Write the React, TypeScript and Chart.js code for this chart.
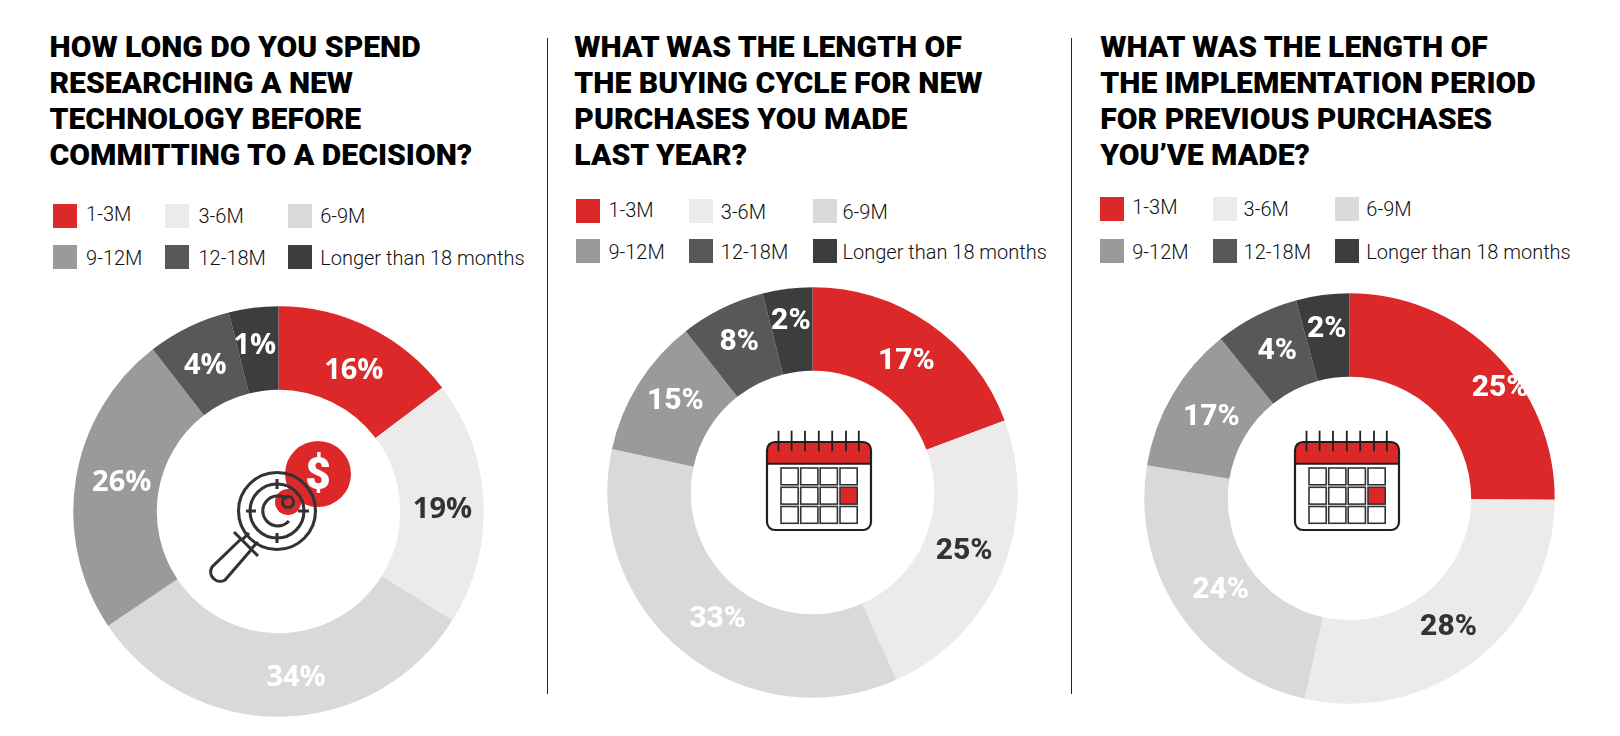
import React, { useEffect, useRef } from "react";
import { Chart, registerables } from "chart.js";

Chart.register(...registerables);

const categories = ["1-3M", "3-6M", "6-9M", "9-12M", "12-18M", "Longer than 18 months"];
const sliceColors = ["#DC2829", "#EBEBEB", "#D9D9D9", "#9B9A9A", "#585858", "#3D3D3D"];
const labelColors = ["#FFFFFF", "#333333", "#FFFFFF", "#FFFFFF", "#FFFFFF", "#FFFFFF"];

// Printed percentages
const researchLabels = [16, 19, 34, 26, 4, 1];
const buyingLabels = [17, 25, 33, 15, 8, 2];
const implementationLabels = [25, 28, 24, 17, 4, 2];

// Slice sizes as drawn in the picture (they differ a little from the printed figures)
const researchSlices = [14.7, 19.2, 31.7, 23.9, 6.6, 3.9];
const buyingSlices = [19.3, 24.0, 35.1, 11.0, 6.7, 3.9];
const implementationSlices = [25.1, 28.4, 24.1, 11.6, 6.6, 4.2];

const researchTitle = ["HOW LONG DO YOU SPEND", "RESEARCHING A NEW", "TECHNOLOGY BEFORE", "COMMITTING TO A DECISION?"];
const buyingTitle = ["WHAT WAS THE LENGTH OF", "THE BUYING CYCLE FOR NEW", "PURCHASES YOU MADE", "LAST YEAR?"];
const implementationTitle = ["WHAT WAS THE LENGTH OF", "THE IMPLEMENTATION PERIOD", "FOR PREVIOUS PURCHASES", "YOU\u2019VE MADE?"];

const K = 1620 / 1571;
const OUTER = 199 * K;
const INNER = 120.5 * K;
const CALENDAR_Y = 490.5;

type Panel = {
  title: string[];
  slices: number[];
  labels: number[];
  cx: number;
  cy: number;
  titleX: number;
  swatchX: number[];
  textX: number[];
  rowTop: number[];
  labelAt: number[][];
  labelFont: string;
  icon: "search" | "calendar";
  iconDx: number;
};

const panels: Panel[] = [
  {
    title: researchTitle, slices: researchSlices, labels: researchLabels,
    cx: 270, cy: 496, titleX: 48,
    swatchX: [51, 160, 279], textX: [83.5, 192.5, 310.5], rowTop: [197.5, 238],
    labelAt: [[73, -138.5], [159, -4], [17, 159], [-152, -29.5], [-71, -143.5], [-23, -162.5]],
    labelFont: "Open Sans", icon: "search", iconDx: 0,
  },
  {
    title: buyingTitle, slices: buyingSlices, labels: buyingLabels,
    cx: 788, cy: 477.5, titleX: 557,
    swatchX: [559, 668, 788], textX: [590, 699, 817], rowTop: [193, 232],
    labelAt: [[91, -129], [147, 55], [-92, 121], [-133, -90], [-71, -147.5], [-21, -167.5]],
    labelFont: "Roboto", icon: "calendar", iconDx: 6,
  },
  {
    title: implementationTitle, slices: implementationSlices, labels: implementationLabels,
    cx: 1309, cy: 483.5, titleX: 1067,
    swatchX: [1067, 1176, 1295], textX: [1098, 1206, 1325], rowTop: [191, 232],
    labelAt: [[146, -109], [96, 123], [-125, 87], [-134, -81], [-70, -145], [-22, -166]],
    labelFont: "Roboto", icon: "calendar", iconDx: -3,
  },
];

function Donut({ panel }: { panel: Panel }) {
  const ref = useRef<HTMLCanvasElement>(null);
  useEffect(() => {
    const labelPlugin = {
      id: "sliceLabels",
      afterDatasetsDraw(chart: any) {
        const ctx = chart.ctx;
        const arc = chart.getDatasetMeta(0).data[0];
        ctx.save();
        ctx.textAlign = "center";
        ctx.textBaseline = "middle";
        ctx.font = panel.labelFont === "Roboto" ? `800 30px "Roboto"` : `700 29px "${panel.labelFont}"`;
        panel.labels.forEach((v, i) => {
          ctx.fillStyle = labelColors[i];
          ctx.fillText(`${v}%`, arc.x + panel.labelAt[i][0] * K, arc.y + (panel.labelAt[i][1] + 2) * K);
        });
        ctx.restore();
      },
    };
    const chart = new Chart(ref.current!, {
      type: "doughnut",
      data: {
        labels: categories,
        datasets: [{ data: panel.slices, backgroundColor: sliceColors, borderWidth: 0, hoverOffset: 0 }],
      },
      options: {
        animation: false,
        responsive: false,
        radius: OUTER,
        cutout: INNER,
        rotation: 0,
        layout: { padding: 0 },
        plugins: { legend: { display: false }, tooltip: { enabled: false }, title: { display: false } },
      } as any,
      plugins: [labelPlugin],
    });
    return () => chart.destroy();
  }, [panel]);

  const size = Math.ceil(2 * OUTER + 8);
  const cx = panel.cx * K;
  const cy = panel.cy * K;
  return (
    <>
      <canvas
        ref={ref}
        width={size}
        height={size}
        style={{ position: "absolute", left: cx - size / 2, top: cy - size / 2, width: size, height: size }}
      />
      {panel.icon === "search" ? <SearchIcon cx={cx} cy={cy} /> : <CalendarIcon cx={cx + panel.iconDx * K} cy={CALENDAR_Y} />}
    </>
  );
}

function SearchIcon({ cx, cy }: { cx: number; cy: number }) {
  const s = "#333333";
  const w = 3.1;
  return (
    <svg width={200} height={200} viewBox="-100 -100 200 200"
      style={{ position: "absolute", left: cx - 100, top: cy - 100 }}>
      <circle cx={40} cy={-37} r={33} fill="#DC2829" />
      <text x={40} y={-22} textAnchor="middle" fontFamily="Roboto" fontWeight={900} fontSize={44} fill="#fff">$</text>
      <circle cx={-1} cy={0} r={38.5} fill="#fff" fillOpacity={0} stroke={s} strokeWidth={w} />
      <circle cx={10} cy={-9} r={13} fill="#DC2829" />
      <circle cx={-1} cy={0} r={27} fill="none" stroke={s} strokeWidth={w} />
      <path d="M 10 -11 A 15 15 0 1 0 10 11" fill="none" stroke={s} strokeWidth={w} transform="rotate(-5 -1 0)" />
      <circle cx={10} cy={-9} r={5.5} fill="none" stroke={s} strokeWidth={w} />
      <path d="M -1 -32 V -22 M -1 22 V 32 M -32 0 H -22 M 20 0 H 31" stroke={s} strokeWidth={w} />
      <path d="M -44 21 L -20 45 M -36 29 L -29 22 M -27 38 L -20 31" stroke={s} strokeWidth={w} fill="none" />
      <path d="M -37 28 L -66 56 A 9.5 9.5 0 0 0 -53 69 L -27 39" stroke={s} strokeWidth={w} fill="none" />
    </svg>
  );
}

function CalendarIcon({ cx, cy }: { cx: number; cy: number }) {
  const s = "#1F1F1F";
  const pins = [-40.5, -27.4, -14, -0.2, 13.2, 27, 39.8];
  const cols = [-38, -18.3, 1.2, 21];
  const rows = [-23, -3.7, 15.5];
  return (
    <svg width={120} height={120} viewBox="-60 -65 120 120"
      style={{ position: "absolute", left: cx - 60, top: cy - 65 }}>
      <path d="M -52 -27.3 V -41 A 8 8 0 0 1 -44 -49 H 44 A 8 8 0 0 1 52 -41 V -27.3 Z" fill="#DC2829" />
      <rect x={-52} y={-49} width={104} height={88} rx={8} fill="none" stroke={s} strokeWidth={2.2} />
      <path d="M -52 -27.3 H 52" stroke={s} strokeWidth={2} />
      {pins.map((p) => (
        <path key={p} d={`M ${p} -60.3 V -39.7`} stroke={s} strokeWidth={1.8} />
      ))}
      {rows.map((r, j) =>
        cols.map((c, i) => (
          <rect key={`${i}-${j}`} x={c} y={r} width={17.2} height={16.8}
            fill={i === 3 && j === 1 ? "#DC2829" : "#fff"} stroke="#333" strokeWidth={1.6} />
        )),
      )}
    </svg>
  );
}

export default function App() {
  return (
    <div style={{ position: "absolute", left: 0, top: 0, width: 1620, height: 736, background: "#fff", overflow: "hidden", fontFamily: "Roboto" }}>
      {[531, 1039].map((x) => (
        <div key={x} style={{ position: "absolute", left: x * K - 0.75, top: 37 * K, width: 1.5, height: 636 * K, background: "#222" }} />
      ))}
      {panels.map((p, pi) => (
        <React.Fragment key={pi}>
          <div style={{ position: "absolute", left: p.titleX * K, top: 28.6 * K, fontWeight: 900, fontSize: 30.1, lineHeight: `${34.8 * K}px`, color: "#000", whiteSpace: "nowrap" }}>
            {p.title.map((t) => <div key={t}>{t}</div>)}
          </div>
          {categories.map((c, i) => {
            const col = i % 3;
            const row = Math.floor(i / 3);
            const top = p.rowTop[row] * K;
            return (
              <React.Fragment key={c}>
                <div style={{ position: "absolute", left: p.swatchX[col] * K, top, width: 24, height: 24, background: sliceColors[i] }} />
                <div style={{ position: "absolute", left: p.textX[col] * K, top: top + 0.5 - (i === 0 ? 2 : 0), height: 24, lineHeight: "24px", fontWeight: 300, fontSize: 20, color: "#111", whiteSpace: "nowrap" }}>{c}</div>
              </React.Fragment>
            );
          })}
          <Donut panel={p} />
        </React.Fragment>
      ))}
    </div>
  );
}
